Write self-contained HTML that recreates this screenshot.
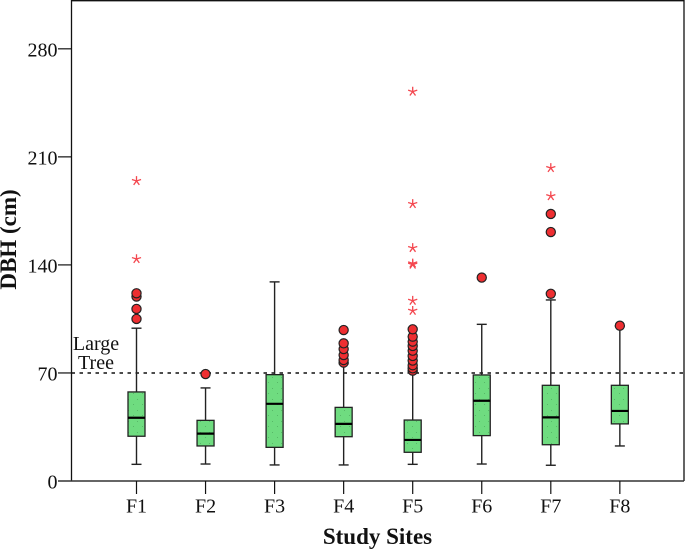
<!DOCTYPE html>
<html>
<head>
<meta charset="utf-8">
<style>
html,body{margin:0;padding:0;background:#fff;width:685px;height:549px;overflow:hidden}
svg{display:block;font-family:"Liberation Serif",serif}
</style>
</head>
<body>
<svg id="chart" width="685" height="549" viewBox="0 0 685 549">
<defs>
<pattern id="stipple" width="9" height="11" patternUnits="userSpaceOnUse">
<rect width="9" height="11" fill="#6fdc80"/>
<rect x="2" y="3" width="1" height="1" fill="#58b868"/>
<rect x="7" y="8" width="1" height="1" fill="#58b868"/>
</pattern>
</defs>
<g id="plot"></g>
</svg>
<script>
const categories = ['F1','F2','F3','F4','F5','F6','F7','F8'];
const whiskerLow = [10.8,11,10.4,10.4,10.8,11,10.2,22.7];
const q1 = [29,22.7,21.8,28.7,18.6,29.4,23.5,37];
const median = [41,30.7,50,37,26.6,52,41.2,45.4];
const q3 = [57.7,39.3,68.9,47.7,39.5,68.7,62,62];
const whiskerHigh = [99,60.3,129,76,70.8,101.5,117.3,100.4];
const outliers = [
  [105,111.5,119.5,121.6],
  [69.3],
  [],
  [76.7,78.4,81.6,85.5,89.2,97.8],
  [71.5,73,75,78,81,84.4,87.5,90.3,93.5,98.3],
  [131.8],
  [121.3,161.3,173],
  [100.6]
];
const extremes = [
  [143.8,194.4],
  [],
  [],
  [],
  [110.3,116.8,140.2,141,151,179.5,252.3],
  [],
  [184.6,202.8],
  []
];
const yTicks = [0,70,140,210,280];
const thresholdValue = 70;
const thresholdLabel = ['Large','Tree'];

const NS = 'http://www.w3.org/2000/svg';
const plot = document.getElementById('plot');
function y(v){ return 481 - v * 1.5435; }
function x(i){ return 136.5 + i * 69.05; }
function el(tag, attrs, parent, text){
  const e = document.createElementNS(NS, tag);
  for (const k in attrs) e.setAttribute(k, attrs[k]);
  if (text !== undefined) e.textContent = text;
  (parent || plot).appendChild(e);
  return e;
}

// threshold line
const thr = el('line', {x1:71.5, x2:684, y1:y(thresholdValue), y2:y(thresholdValue), stroke:'#111', 'stroke-width':1.5, 'stroke-dasharray':'3.5 4.5'});



thresholdLabel.forEach(function(t, i){
  const lab = el('text', {x:96, y:y(thresholdValue) - 23 + i * 19, 'text-anchor':'middle', 'font-size':20, fill:'#111'}, plot, t);
  
  
});

// boxes
categories.forEach(function(cat, i){
  const cx = x(i);
  const g = el('g', {});
  
  
  el('line', {x1:cx, x2:cx, y1:y(whiskerLow[i]), y2:y(whiskerHigh[i]), stroke:'#222', 'stroke-width':1.4}, g);
  el('line', {x1:cx-5, x2:cx+5, y1:y(whiskerLow[i]), y2:y(whiskerLow[i]), stroke:'#222', 'stroke-width':1.4}, g);
  el('line', {x1:cx-5, x2:cx+5, y1:y(whiskerHigh[i]), y2:y(whiskerHigh[i]), stroke:'#222', 'stroke-width':1.4}, g);
  el('rect', {x:cx-8.5, y:y(q3[i]), width:17, height:y(q1[i])-y(q3[i]), fill:'url(#stipple)', stroke:'#222', 'stroke-width':1.3}, g);
  el('line', {x1:cx-8.5, x2:cx+8.5, y1:y(median[i]), y2:y(median[i]), stroke:'#000', 'stroke-width':2.2}, g);
  outliers[i].forEach(function(v){
    const c = el('circle', {cx:cx, cy:y(v), r:4.6, fill:'#ee2e31', stroke:'#222', 'stroke-width':1.2}, g);
    
    
  });
  extremes[i].forEach(function(v){
    const cy = y(v);
    let d = '';
    for (let a = 0; a < 5; a++){
      const t = -Math.PI/2 + a * 2 * Math.PI / 5;
      d += 'M' + cx + ' ' + cy + 'L' + (cx + 4.8*Math.cos(t)) + ' ' + (cy + 4.8*Math.sin(t));
    }
    const s = el('path', {d:d, stroke:'#f4474f', 'stroke-width':1.3, fill:'none'}, g);
    
    
  });
});

// axes
const axes = el('g', {});


el('path', {d:'M71.5 481V0.7H684V481', fill:'none', stroke:'#111', 'stroke-width':1.3}, axes);
el('line', {x1:58, x2:684, y1:481, y2:481, stroke:'#333', 'stroke-width':1.5}, axes);

yTicks.forEach(function(t){
  if (t !== 0) el('line', {x1:58, x2:71.5, y1:y(t), y2:y(t), stroke:'#111', 'stroke-width':1.2}, axes);
  const lab = el('text', {x:57.5, y:y(t)+7.5, 'text-anchor':'end', 'font-size':20, fill:'#111'}, axes, String(t));
  
  
});
categories.forEach(function(cat, i){
  el('line', {x1:x(i), x2:x(i), y1:481, y2:494, stroke:'#111', 'stroke-width':1.2}, axes);
  const lab = el('text', {x:x(i), y:512.5, 'text-anchor':'middle', 'font-size':20, fill:'#111'}, axes, cat);
  
  
});
const xt = el('text', {x:377.5, y:544, 'text-anchor':'middle', 'font-size':23, 'font-weight':'bold', fill:'#111'}, plot, 'Study Sites');


const yt = el('text', {x:0, y:0, transform:'translate(16,239.5) rotate(-90)', 'text-anchor':'middle', 'font-size':23, 'font-weight':'bold', fill:'#111'}, plot, 'DBH (cm)');


</script>
</body>
</html>
